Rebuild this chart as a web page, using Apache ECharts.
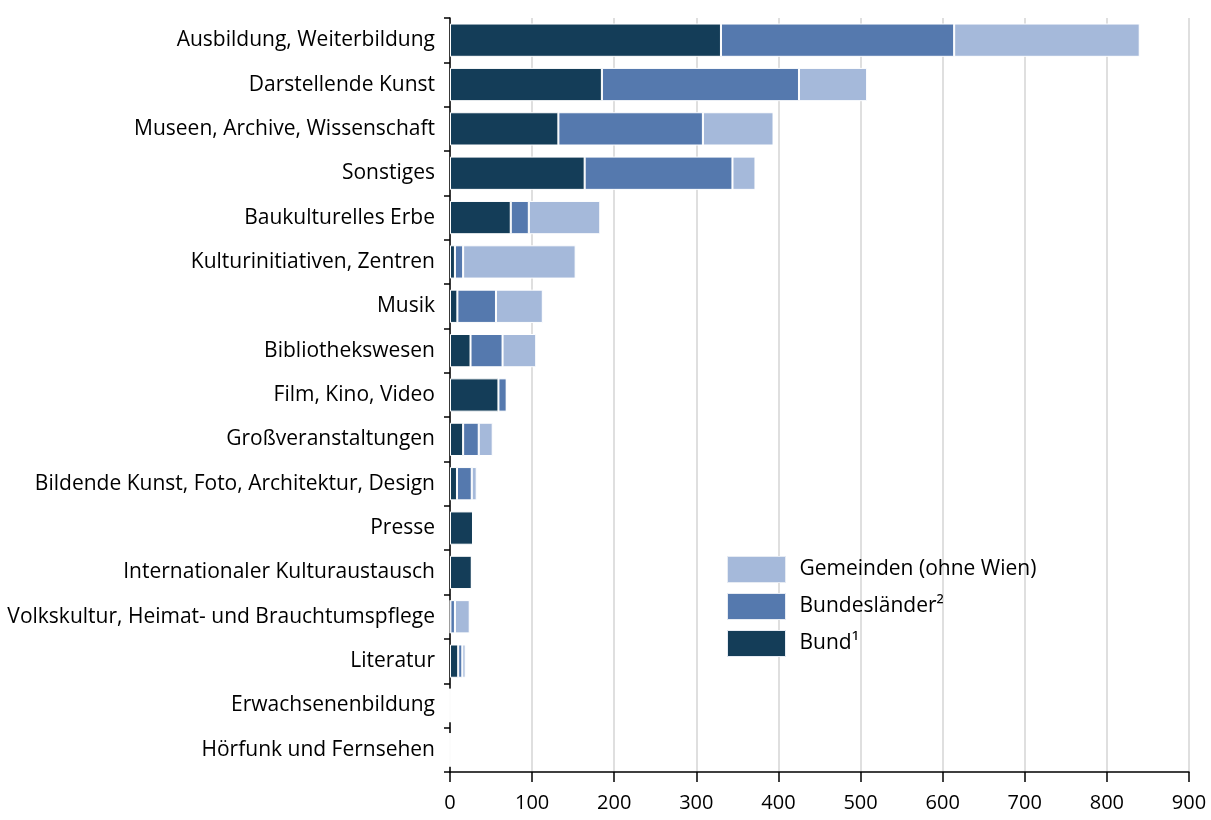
<!DOCTYPE html>
<html>
<head>
<meta charset="utf-8">
<script src="https://cdn.jsdelivr.net/npm/echarts@6/dist/echarts.min.js"></script>
<style>
html,body{margin:0;padding:0;background:#fff;}
#chart{width:1211px;height:820px;}
</style>
</head>
<body>
<div id="chart"></div>
<script>
const categories = [
  "Ausbildung, Weiterbildung",
  "Darstellende Kunst",
  "Museen, Archive, Wissenschaft",
  "Sonstiges",
  "Baukulturelles Erbe",
  "Kulturinitiativen, Zentren",
  "Musik",
  "Bibliothekswesen",
  "Film, Kino, Video",
  "Großveranstaltungen",
  "Bildende Kunst, Foto, Architektur, Design",
  "Presse",
  "Internationaler Kulturaustausch",
  "Volkskultur, Heimat- und Brauchtumspflege",
  "Literatur",
  "Erwachsenenbildung",
  "Hörfunk und Fernsehen"
];
const bund =         [330, 185, 132, 164, 74, 6, 9, 25, 59, 16, 8.5, 28, 26.5, 0.5, 10, 0, 0];
const bundeslaender = [284, 240, 176, 180, 22, 10, 47, 39, 10, 19, 18, 0, 0.5, 5.5, 5, 0, 0];
const gemeinden =    [226, 83, 86, 28, 87, 137, 57, 41, 1, 17, 6, 0, 1, 18, 4, 0, 0];
const xTicks = { min: 0, max: 900, interval: 100 };
const seriesNames = ["Bund\u00b9", "Bundesl\u00e4nder\u00b2", "Gemeinden (ohne Wien)"];
const colors = ["#143d58", "#5579ae", "#a5b9da"];

const font = "'Open Sans', sans-serif";
const chart = echarts.init(document.getElementById('chart'), null, {renderer: 'canvas'});
const mk = (name, data, color) => ({
  name, type: 'bar', stack: 'total', data,
  barCategoryGap: '25%',
  itemStyle: { color, borderColor: '#ffffff', borderWidth: 1 },
  emphasis: { disabled: true }
});
chart.setOption({
  animation: false,
  color: colors,
  grid: { left: 450, right: 22, top: 18, bottom: 48, containLabel: false },
  xAxis: {
    type: 'value', min: xTicks.min, max: xTicks.max, interval: xTicks.interval,
    axisLine: { show: true, lineStyle: { color: '#000', width: 1.5 } },
    axisTick: { show: true, length: 10, lineStyle: { color: '#000', width: 1.5 } },
    axisLabel: { color: '#000', fontSize: 20, fontFamily: font, margin: 21 },
    splitLine: { show: true, lineStyle: { color: '#d4d4d4', width: 1.5 } }
  },
  yAxis: {
    type: 'category', data: categories, inverse: true,
    axisLine: { show: true, lineStyle: { color: '#000', width: 1.5 } },
    axisTick: { show: true, length: 6, lineStyle: { color: '#000', width: 1.5 } },
    axisLabel: { color: '#000', fontSize: 21, fontFamily: font, margin: 15 }
  },
  legend: {
    data: [seriesNames[2], seriesNames[1], seriesNames[0]],
    orient: 'vertical', left: 722, top: 551, icon: 'rect',
    itemWidth: 58, itemHeight: 26, itemGap: 10,
    textStyle: { color: '#000', fontSize: 21, fontFamily: font, padding: [0, 0, 0, 9] },
    itemStyle: { borderColor: '#e6ebf3', borderWidth: 1 }
  },
  series: [
    mk(seriesNames[0], bund, colors[0]),
    mk(seriesNames[1], bundeslaender, colors[1]),
    mk(seriesNames[2], gemeinden, colors[2])
  ]
});
</script>
</body>
</html>
